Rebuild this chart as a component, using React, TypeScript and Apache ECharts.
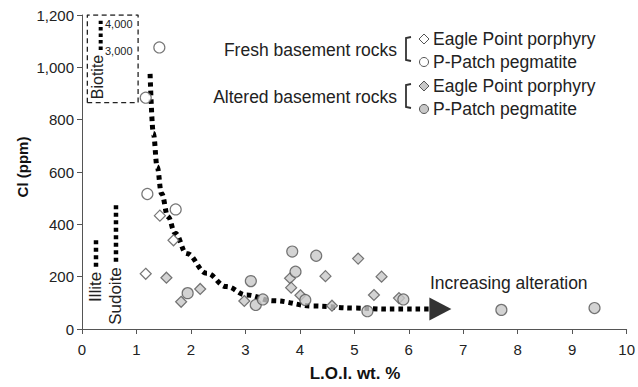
import React, { useEffect, useRef } from "react";
import * as echarts from "echarts";

const FONT = "'Liberation Sans', Arial, Helvetica, sans-serif";

// Axis ticks
const xTicks = [0, 1, 2, 3, 4, 5, 6, 7, 8, 9, 10];
const yTicks = [0, 200, 400, 600, 800, 1000, 1200];

// Fresh basement rocks
const freshEagleX = [1.17, 1.43, 1.68];
const freshEagleY = [211, 433, 339];
const freshPegX = [1.2, 1.72, 1.42, 1.17];
const freshPegY = [516, 457, 1076, 884];

// Altered basement rocks
const altEagleX = [1.55, 1.82, 2.17, 2.98, 3.82, 3.84, 4.01, 4.47, 5.07, 5.5, 5.36, 4.59, 5.82];
const altEagleY = [196, 104, 153, 107, 194, 158, 129, 202, 269, 200, 130, 89, 118];
const altPegX = [1.94, 3.1, 3.19, 3.32, 3.86, 3.92, 4.1, 4.3, 5.24, 5.9, 7.7, 9.41];
const altPegY = [137, 183, 92, 113, 296, 219, 111, 280, 68, 113, 73, 80];

// Alteration trend curve (dotted, with arrow)
const trendX = [1.25, 1.31, 1.38, 1.46, 1.58, 1.71, 1.92, 2.29, 2.65, 3.02, 3.51, 4.24, 5.0, 5.6, 6.39];
const trendY = [975, 748, 620, 518, 429, 366, 289, 213, 162, 130, 108, 88, 80, 76, 76];
const arrowX = [6.58];
const arrowY = [76];

// Reference mineral markers
const illiteX = [0.257, 0.257];
const illiteY = [238, 353];
const sudoiteX = [0.624, 0.624];
const sudoiteY = [257, 480];
const biotiteBoxX = [0.098, 0.098, 1.03, 1.03, 0.098];
const biotiteBoxY = [865, 1200, 1200, 865, 865];
const biotiteLineX = [0.343, 0.343];
const biotiteLineY = [1066, 1178];

const zip = (xs: number[], ys: number[]) => xs.map((x, i) => [x, ys[i]]);

const GRAY = "#c8c8c8";
const STROKE = "#555";

export default function App() {
  const ref = useRef<HTMLDivElement>(null);
  useEffect(() => {
    if (!ref.current) return;
    const chart = echarts.init(ref.current, undefined, { renderer: "svg" });
    const txt = (x: number, y: number, text: string, opts: any = {}) => ({
      type: "text",
      x,
      y,
      rotation: opts.rotation || 0,
      style: {
        text,
        fontFamily: FONT,
        fontSize: opts.fontSize || 17,
        fontWeight: opts.fontWeight || "normal",
        fill: opts.fill || "#222",
        align: opts.align || "left",
        verticalAlign: "middle",
      },
    });
    const legendMarker = (kind: string, x: number, y: number, fill: string) =>
      kind === "circle"
        ? { type: "circle", shape: { cx: x, cy: y, r: 4.5 }, style: { fill, stroke: STROKE, lineWidth: 1 } }
        : {
            type: "polygon",
            shape: { points: [[x, y - 5], [x + 5, y], [x, y + 5], [x - 5, y]] },
            style: { fill, stroke: STROKE, lineWidth: 1 },
          };
    const bracket = (y1: number, y2: number) => ({
      type: "polyline",
      shape: { points: [[411, y1], [406, y1 + 1], [406, y2 - 1], [411, y2]] },
      style: { stroke: "#333", lineWidth: 1.8, fill: null },
    });

    const option: any = {
      animation: false,
      backgroundColor: "#fff",
      grid: { left: 82, right: 11, top: 15, bottom: 58 },
      xAxis: {
        type: "value",
        min: xTicks[0],
        max: xTicks[xTicks.length - 1],
        interval: 1,
        axisLine: { show: true, lineStyle: { color: "#555", width: 1 } },
        axisTick: { show: true, length: 5, lineStyle: { color: "#555" } },
        splitLine: { show: false },
        axisLabel: { margin: 13, fontSize: 15, color: "#222", fontFamily: FONT },
      },
      yAxis: {
        type: "value",
        min: yTicks[0],
        max: yTicks[yTicks.length - 1],
        interval: 200,
        axisLine: { show: true, lineStyle: { color: "#555", width: 1 } },
        axisTick: { show: true, length: 5, lineStyle: { color: "#555" } },
        splitLine: { show: false },
        axisLabel: {
          margin: 8,
          fontSize: 15,
          color: "#222",
          fontFamily: FONT,
          formatter: (v: number) => v.toLocaleString("en-US"),
        },
      },
      series: [
        {
          type: "line",
          data: zip(biotiteBoxX, biotiteBoxY),
          showSymbol: false,
          silent: true,
          lineStyle: { color: "#222", width: 1.3, type: [5, 3.5] },
          z: 1,
        },
        {
          type: "line",
          data: zip(biotiteLineX, biotiteLineY),
          showSymbol: false,
          silent: true,
          lineStyle: { color: "#000", width: 4, type: [3.5, 3], cap: "butt" },
          z: 1,
        },
        {
          type: "line",
          data: zip(illiteX, illiteY),
          showSymbol: false,
          silent: true,
          lineStyle: { color: "#000", width: 4.5, type: [4, 3.5], cap: "butt" },
          z: 1,
        },
        {
          type: "line",
          data: zip(sudoiteX, sudoiteY),
          showSymbol: false,
          silent: true,
          lineStyle: { color: "#000", width: 4.5, type: [4, 3.5], cap: "butt" },
          z: 1,
        },
        {
          type: "line",
          data: zip(trendX, trendY),
          smooth: 0.4,
          smoothMonotone: "x",
          showSymbol: false,
          silent: true,
          lineStyle: { color: "#000", width: 5, type: [4.5, 4], cap: "butt" },
          z: 2,
        },
        {
          type: "scatter",
          data: zip(arrowX, arrowY),
          symbol: "triangle",
          symbolRotate: -90,
          symbolSize: [23, 22],
          itemStyle: { color: "#000" },
          z: 2,
        },
        {
          name: "Fresh Eagle Point porphyry",
          type: "scatter",
          data: zip(freshEagleX, freshEagleY),
          symbol: "diamond",
          symbolSize: 11,
          itemStyle: { color: "#fff", borderColor: STROKE, borderWidth: 1.2 },
          z: 3,
        },
        {
          name: "Fresh P-Patch pegmatite",
          type: "scatter",
          data: zip(freshPegX, freshPegY),
          symbol: "circle",
          symbolSize: 11,
          itemStyle: { color: "#fff", borderColor: STROKE, borderWidth: 1.2 },
          z: 3,
        },
        {
          name: "Altered Eagle Point porphyry",
          type: "scatter",
          data: zip(altEagleX, altEagleY),
          symbol: "diamond",
          symbolSize: 11,
          itemStyle: { color: GRAY, borderColor: STROKE, borderWidth: 1.2 },
          z: 3,
        },
        {
          name: "Altered P-Patch pegmatite",
          type: "scatter",
          data: zip(altPegX, altPegY),
          symbol: "circle",
          symbolSize: 11,
          itemStyle: { color: GRAY, borderColor: STROKE, borderWidth: 1.2 },
          z: 3,
        },
      ],
      graphic: [
        txt(22, 167, "Cl (ppm)", { rotation: Math.PI / 2, fontWeight: "bold", fontSize: 15, align: "center", fill: "#111" }),
        txt(355, 373, "L.O.I. wt. %", { fontWeight: "bold", fontSize: 17, align: "center", fill: "#111" }),
        txt(97, 77, "Biotite", { rotation: Math.PI / 2, fontSize: 16, align: "center" }),
        txt(105, 23.5, "4,000", { fontSize: 11 }),
        txt(105, 51, "3,000", { fontSize: 11 }),
        txt(95, 287, "Illite", { rotation: Math.PI / 2, fontSize: 17, align: "center" }),
        txt(115, 296, "Sudoite", { rotation: Math.PI / 2, fontSize: 17, align: "center" }),
        txt(430, 283, "Increasing alteration", { fontSize: 17.5 }),
        txt(397, 50, "Fresh basement rocks", { fontSize: 17.5, align: "right" }),
        txt(397, 97, "Altered basement rocks", { fontSize: 17.5, align: "right" }),
        bracket(37, 61),
        bracket(84, 108),
        legendMarker("diamond", 424, 39, "#fff"),
        txt(433, 39, "Eagle Point porphyry", { fontSize: 17.5 }),
        legendMarker("circle", 424, 62, "#fff"),
        txt(433, 62, "P-Patch pegmatite", { fontSize: 17.5 }),
        legendMarker("diamond", 424, 86, GRAY),
        txt(433, 86, "Eagle Point porphyry", { fontSize: 17.5 }),
        legendMarker("circle", 424, 109, GRAY),
        txt(433, 109, "P-Patch pegmatite", { fontSize: 17.5 }),
      ],
    };
    chart.setOption(option);
    return () => chart.dispose();
  }, []);
  return (
    <div
      ref={ref}
      style={{ position: "fixed", left: 0, top: 0, width: 638, height: 387, background: "#fff" }}
    />
  );
}
